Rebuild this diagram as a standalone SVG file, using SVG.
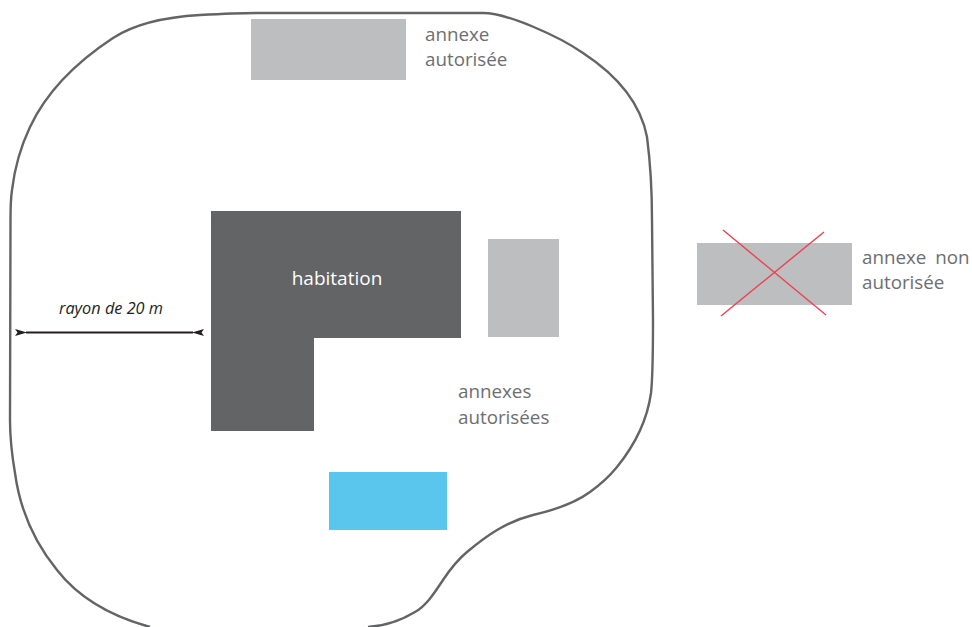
<svg xmlns="http://www.w3.org/2000/svg" width="972" height="627" viewBox="0 0 972 627">
<style>
.annex{fill:#bcbec0}
.lbl{font-family:"Open Sans","Noto Sans",sans-serif;font-size:18.800px;fill:#6d6e71}
.cross{stroke:#ee4050;stroke-width:1.4;fill:none}
</style>
<defs>
<marker id="ah" viewBox="0 0 12 8" refX="1" refY="4" markerWidth="12" markerHeight="8" markerUnits="userSpaceOnUse" orient="auto-start-reverse"><path d="M12 0.500 L0 4 L12 7.500 L9.500 4 Z" fill="#231f20"/></marker>
</defs>
<rect width="972" height="627" fill="#fff"/>
<g id="limit"><path d="M150 627C110 616 78 597 57 570C35 543 20 510 15 473C11 450 10 435 10 420L10.500 220C10.500 205 11 197 12 190C15 165 21 146 30 127C45 95 72 65 113 38C133 25 165 17 200 15C220 14 240 13 260 13L483 13C508 13 560 37 583 53C612 72 640 100 647 137C650 160 652 190 652 220L653 320C653 350 653 375 651 393C648 415 638 441 617 467C608 478 597 487 590 492C575 503 555 510 533 515C505 522 485 537 467 552C455 562 449 571 443 580C435 592 427 605 415 612C400 621 385 626 368 627" fill="none" stroke="#636466" stroke-width="2.400"/></g>
<g id="annexe-haut"><rect class="annex" x="251" y="19" width="155" height="61"/><text class="lbl"><tspan x="425" y="41">annexe</tspan><tspan x="425" y="66">autorisée</tspan></text></g>
<g id="habitation"><path d="M211 211H461V338H314V431H211Z" fill="#636466"/><text x="337" y="285" text-anchor="middle" font-family="'Open Sans','Noto Sans',sans-serif" font-size="19" fill="#fff">habitation</text></g>
<g id="annexes"><rect class="annex" x="488" y="239" width="71" height="98"/><text class="lbl"><tspan x="458" y="398">annexes</tspan><tspan x="458" y="424">autorisées</tspan></text></g>
<g id="piscine"><rect x="329" y="472" width="118" height="58" fill="#5ac5ed"/></g>
<g id="annexe-non"><rect class="annex" x="697" y="243" width="155" height="62"/><path class="cross" d="M723 230L826 315M721 316L824 232"/><text class="lbl" word-spacing="4"><tspan x="862" y="264">annexe non</tspan><tspan x="862" y="289">autorisée</tspan></text></g>
<g id="connectors"><line x1="26" y1="332.500" x2="193" y2="332.500" stroke="#231f20" stroke-width="2" marker-start="url(#ah)" marker-end="url(#ah)"/></g>
<g id="rayon"><text x="111" y="314" text-anchor="middle" font-family="'Open Sans','Noto Sans',sans-serif" font-size="16.300" font-style="italic" fill="#231f20">rayon de 20 m</text></g>
</svg>
